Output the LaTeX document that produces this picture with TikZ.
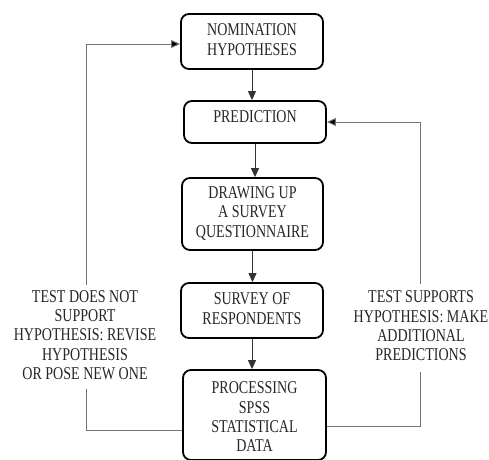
\documentclass[tikz,border=0pt]{standalone}
\usepackage{fontspec}
\setmainfont{Liberation Serif}
\usetikzlibrary{arrows.meta}
\newcommand{\nx}[1]{\scalebox{0.78}[1]{\begin{tabular}{@{}c@{}}#1\end{tabular}}}
\begin{document}
\begin{tikzpicture}[x=1pt,y=-1pt,
  txt/.style={font=\fontsize{18}{20}\selectfont, align=center, text=black!85},
  box/.style={txt, draw=black, line width=1.8pt, rounded corners=8pt, inner sep=0pt},
  arr/.style={draw=black!80, line width=1pt, -{Triangle[length=9pt,width=8pt]}},
  loopline/.style={draw=black!55, line width=1pt},
  looparr/.style={loopline, -{Triangle[length=9pt,width=8pt,fill=black]}}]
\useasboundingbox (0,0) rectangle (489,459);
\renewcommand{\arraystretch}{0.97}
\node[box, minimum width=142pt, minimum height=55pt] (nom) at (252,41.5) {\nx{NOMINATION\\HYPOTHESES}};
\node[box, minimum width=142pt, minimum height=42pt, text height=12pt, text depth=10pt] (pred) at (255,122) {\nx{PREDICTION}};
\node[box, minimum width=141pt, minimum height=72pt] (draw) at (252.5,214) {\nx{DRAWING UP\\A SURVEY\\QUESTIONNAIRE}};
\node[box, minimum width=142pt, minimum height=55pt] (surv) at (252,310.5) {\nx{SURVEY OF\\RESPONDENTS}};
\node[box, minimum width=143pt, minimum height=90pt] (proc) at (254.5,415) {\raisebox{-4pt}[\height][\depth]{\nx{PROCESSING\\SPSS\\STATISTICAL\\DATA}}};

\draw[arr] (nom.south) -- (nom.south |- pred.north);
\draw[arr] (pred.south) -- (pred.south |- draw.north);
\draw[arr] (draw.south) -- (draw.south |- surv.north);
\draw[arr] (surv.south) -- (surv.south |- proc.north);

\node[txt, inner sep=3pt] (lt) at (85,337) {\nx{TEST DOES NOT\\SUPPORT\\HYPOTHESIS: REVISE\\HYPOTHESIS\\OR POSE NEW ONE}};
\node[txt, inner sep=5pt] (rt) at (421,328) {\nx{TEST SUPPORTS\\HYPOTHESIS: MAKE\\ADDITIONAL\\PREDICTIONS}};

\coordinate (lb) at (86,430);
\coordinate (ltop) at (86,44);
\coordinate (rb) at (420,426);
\coordinate (rtop) at (420,122);

\draw[loopline] (proc.west |- lb) -- (lb) -- (lt.south -| lb);
\draw[looparr] (lt.north -| ltop) -- (ltop) -- (nom.west |- ltop);
\draw[loopline] (proc.east |- rb) -- (rb) -- (rt.south -| rb);
\draw[looparr] (rt.north -| rtop) -- (rtop) -- (pred.east |- rtop);
\end{tikzpicture}
\end{document}
